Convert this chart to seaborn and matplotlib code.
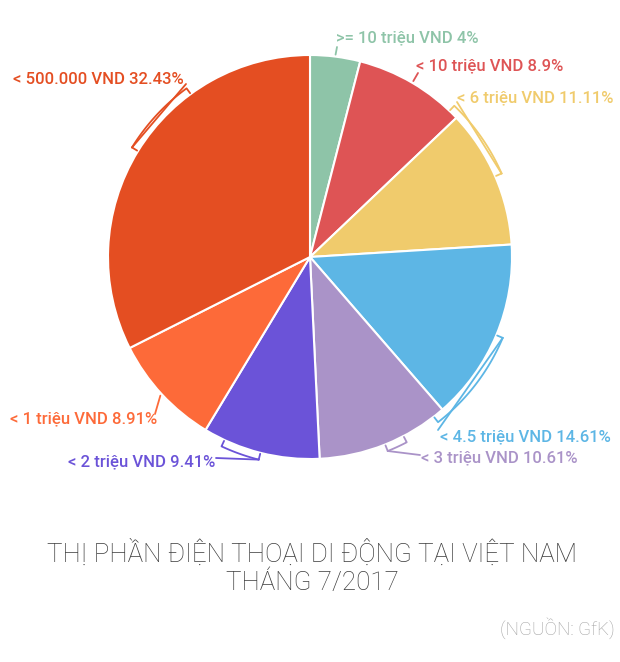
import numpy as np
import matplotlib
matplotlib.use('Agg')
import matplotlib.pyplot as plt
import seaborn as sns

sns.set_style('white')
plt.rcParams['font.family'] = ['Roboto', 'DejaVu Sans']

# data, clockwise from 12 o'clock
labels = ['>= 10 triệu VND', '< 10 triệu VND', '< 6 triệu VND', '< 4.5 triệu VND',
          '< 3 triệu VND', '< 2 triệu VND', '< 1 triệu VND', '< 500.000 VND']
shares = [4, 8.9, 11.11, 14.61, 10.61, 9.41, 8.91, 32.43]
pct_text = ['4%', '8.9%', '11.11%', '14.61%', '10.61%', '9.41%', '8.91%', '32.43%']
colors = ['#8ec4a8', '#de5455', '#f0cb6c', '#5db6e5', '#aa93c8', '#6b53d8', '#fd6a39', '#e44e22']

# layout (pixels from top-left): where each label sits
text_pos = [(336, 38), (416, 66), (457, 98), (440, 437), (421, 458), (215, 462), (157, 419), (184, 79)]
text_ha = ['left', 'left', 'left', 'left', 'left', 'right', 'right', 'right']
conn_end = [(337, 47), (418, 73), (457, 102), (438, 430), (420, 455), (216, 458), (155, 414), (186, 84)]
# bracket runs from the slice middle (0.5) to this fraction of the slice
bracket_to = [0.5, 0.5, -0.07, 1.06, 0.35, 0.82, 0.5, 0.69]

W, H = 620, 662
cx, cy, R = 310, 257, 202

def px(x, y):
    return x, H - y

fig = plt.figure(figsize=(W / 100, H / 100), dpi=100)
ax = fig.add_axes([0, 0, 1, 1])

wedges, _ = ax.pie(shares, colors=colors, startangle=90, counterclock=False,
                   center=px(cx, cy), radius=R, frame=True,
                   wedgeprops=dict(edgecolor='white', linewidth=1.5))
ax.set_xlim(0, W)
ax.set_ylim(0, H)
ax.axis('off')

def polar(theta, r):
    x0, y0 = px(cx, cy)
    t = np.radians(theta)
    return x0 + r * np.cos(t), y0 + r * np.sin(t)

for i, w in enumerate(wedges):
    col = colors[i]
    t1, t2 = w.theta1, w.theta2
    # theta2 is the clockwise start of the slice
    mid = t2 - 0.5 * (t2 - t1)
    end = t2 - bracket_to[i] * (t2 - t1)
    ex, ey = px(*conn_end[i])
    if abs(end - mid) > 0.5:
        ang = np.linspace(mid, end, 60)
        xs, ys = polar(ang, R + 7)
        hx1, hy1 = polar(end, R + 1)
        ax.plot([*xs, hx1], [*ys, hy1], color=col, lw=1.3)
        sx, sy = polar(mid, R + 7)
        hx0, hy0 = polar(mid, R + 1)
        ax.plot([hx0, sx], [hy0, sy], color=col, lw=1.3)
    else:
        sx, sy = polar(mid, R + 2)
    ax.plot([sx, ex], [sy, ey], color=col, lw=1.3)
    tx, ty = px(*text_pos[i])
    ax.text(tx, ty, f'{labels[i]} {pct_text[i]}', color=col, fontsize=12,
            fontweight='medium', ha=text_ha[i], va='center')

ax.text(*px(312, 553), 'THỊ PHẦN ĐIỆN THOẠI DI ĐỘNG TẠI VIỆT NAM', ha='center', va='center',
        fontsize=18.7, fontweight='light', color='#3c3c3c')
ax.text(*px(312, 583), 'THÁNG 7/2017', ha='center', va='center',
        fontsize=18.7, fontweight='light', color='#3c3c3c')
ax.text(*px(615, 628), '(NGUỒN: GfK)', ha='right', va='center',
        fontsize=13.5, fontweight='light', color='#a0a0a0')

fig.savefig('out.png', dpi=100, facecolor='white')
